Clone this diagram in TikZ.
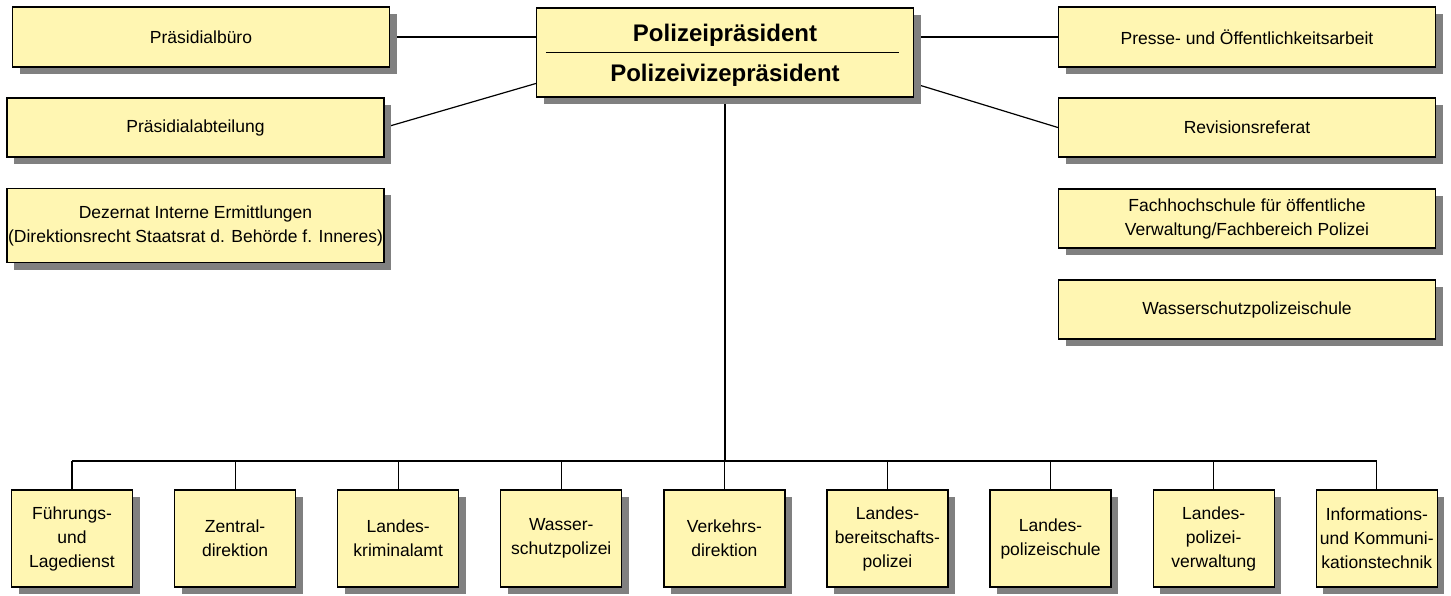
\documentclass[tikz,border=0pt]{standalone}
\usepackage{fontspec}
\setmainfont{Liberation Sans}
\usetikzlibrary{shadows,backgrounds}
\definecolor{boxyellow}{RGB}{255,246,178}
\definecolor{shadowgray}{RGB}{128,128,128}

\begin{document}
\begin{tikzpicture}[x=1pt,y=-1pt,
    orgbox/.style={draw=black, line width=1.3pt, fill=boxyellow, inner sep=0pt,
        align=center, font=\fontsize{17.5}{24}\selectfont,
        general shadow={fill=shadowgray, shadow xshift=7pt, shadow yshift=-7pt}},
    sidebox/.style={orgbox, minimum width=377pt, minimum height=59pt},
    unitbox/.style={orgbox, minimum width=121pt, minimum height=97pt},
    link/.style={line width=1.2pt}]
    \useasboundingbox (0,0) rectangle (1451,596);

    \node[sidebox, minimum height=89pt] (pp) at (725,52.5) {};
    \node[anchor=base, font=\fontsize{24}{28}\selectfont\bfseries] (ppa) at ([yshift=10.5pt]pp.center) {Polizeipräsident};
    \node[anchor=base, font=\fontsize{24}{28}\selectfont\bfseries] (ppb) at ([yshift=-29.5pt]pp.center) {Polizeivizepräsident};
    \draw[line width=1pt] ([xshift=10pt]pp.west) -- ([xshift=-15pt]pp.east);

    \node[sidebox, minimum height=60pt] (pbu) at (201,37) {Präsidialbüro};
    \node[sidebox] (pab) at (195.5,127.5) {Präsidialabteilung};
    \node[sidebox, minimum height=74pt] (dez) at (195.5,225.5) {Dezernat Interne Ermittlungen\\(Direktionsrecht Staatsrat d. Behörde f. Inneres)};

    \node[sidebox, minimum height=60pt] (pre) at (1247,37) {Presse- und Öffentlichkeitsarbeit};
    \node[sidebox] (rev) at (1247,127.5) {Revisionsreferat};
    \node[sidebox] (fhs) at (1247,218.5) {Fachhochschule für öffentliche\\Verwaltung/Fachbereich Polizei};
    \node[sidebox] (wsp) at (1247,309.5) {Wasserschutzpolizeischule};

    \foreach \txt [count=\i] in {{Führungs-\\und\\Lagedienst}, {Zentral-\\direktion}, {Landes-\\kriminalamt},
        {Wasser-\\schutzpolizei}, {Verkehrs-\\direktion}, {Landes-\\bereitschafts-\\polizei},
        {Landes-\\polizeischule}, {Landes-\\polizei-\\verwaltung}, {Informations-\\und Kommuni-\\kationstechnik}}
        \node[unitbox] (u\i) at ({72+163.1*(\i-1)},538.5) {\txt};

    \coordinate (bus) at (725,461);

    \begin{scope}[on background layer]
        \draw[link] (pbu.east) -- (pbu.east -| pp.west);
        \draw[link] (pab.east) -- ([yshift=-31pt]pp.west);
        \draw[link] (pre.west) -- (pre.west -| pp.east);
        \draw[link] (rev.west) -- ([yshift=-31pt]pp.east);
        \draw[link] (pp.south) -- (bus);
        \draw[link] (u1.north |- bus) -- (u9.north |- bus);
        \foreach \i in {1,...,9}
            \draw[link] (u\i.north) -- (u\i.north |- bus);
    \end{scope}
\end{tikzpicture}
\end{document}
